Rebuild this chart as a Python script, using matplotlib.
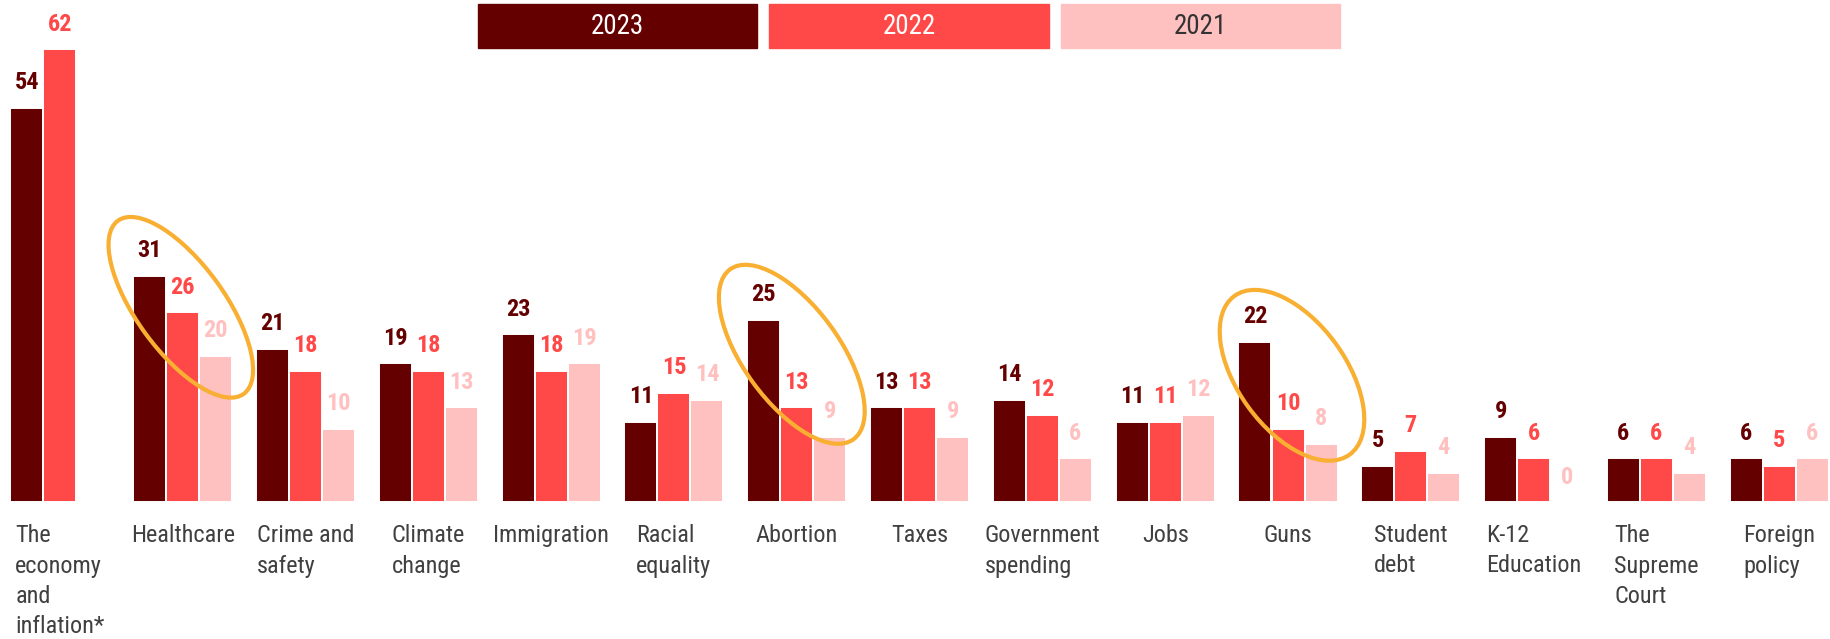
#!/usr/bin/env python3
"""Grouped bars: top issues 2021-2023 with highlighted groups."""

import matplotlib
matplotlib.use("Agg")
import matplotlib.pyplot as plt
import matplotlib.transforms as mtransforms
from matplotlib import font_manager
from matplotlib.patches import Ellipse, Rectangle
import numpy as np


CATEGORIES = [
    "The\neconomy\nand\ninflation*", "Healthcare", "Crime and\nsafety", "Climate\nchange",
    "Immigration", "Racial\nequality", "Abortion", "Taxes", "Government\nspending",
    "Jobs", "Guns", "Student\ndebt", "K-12\nEducation", "The\nSupreme\nCourt", "Foreign\npolicy",
]
YEARS = ["2023", "2022", "2021"]
V2023 = [54, 31, 21, 19, 23, 11, 25, 13, 14, 11, 22, 5, 9, 6, 6]
V2022 = [62, 26, 18, 18, 18, 15, 13, 13, 12, 11, 10, 7, 6, 6, 5]
V2021 = [np.nan, 20, 10, 13, 19, 14, 9, 9, 6, 12, 8, 4, 0, 4, 6]
HIGHLIGHTED = ["Healthcare", "Abortion", "Guns"]

COLORS = ["#640000", "#ff4848", "#ffc0c0"]
LEGEND_TEXT = ["white", "white", "#333333"]
LABEL_GRAY = "#404040"
RING = "#f8af32"

# the original uses a narrow sans; take the first condensed face that is installed
installed = {f.name for f in font_manager.fontManager.ttflist}
FONT = next((n for n in ("Liberation Sans Narrow", "Roboto Condensed", "PT Sans Narrow")
             if n in installed), "Liberation Sans")
plt.rcParams["font.family"] = [FONT, "DejaVu Sans"]

W, H = 1831, 639
fig = plt.figure(figsize=(W / 100, H / 100), dpi=100)
base_px = 502.3
ax = fig.add_axes([0, (H - base_px) / H, 1, base_px / H])
px_per_unit = 7.306
group_px = 122.8
ax.set_xlim(-60 / group_px, (W - 60) / group_px)
ax.set_ylim(0, base_px / px_per_unit)
ax.axis("off")

x = np.arange(len(CATEGORIES))
bw = 33 / group_px
series = [V2023, V2022, V2021]
for i, (vals, color) in enumerate(zip(series, COLORS)):
    vals = np.array(vals, dtype=float)
    xs = x + (i - 1) * bw
    ok = ~np.isnan(vals)
    ax.bar(xs[ok], vals[ok], width=bw, color=color, edgecolor="white", linewidth=1.4)
    for xi, v in zip(xs[ok], vals[ok]):
        ax.annotate(f"{int(v)}", (xi, v), xytext=(0, 13.5), textcoords="offset points",
                    ha="center", va="baseline", fontsize=17.5, fontweight="bold", color=color)

for xi, name in zip(x, CATEGORIES):
    ax.text(xi, -22 / px_per_unit, name, ha="center", va="top", multialignment="left",
            fontsize=17.5, color=LABEL_GRAY, linespacing=1.4, clip_on=False)

# orange rings: (center dx px, center dy px above baseline, width px, height px)
rings = {"Healthcare": (-2, 195, 214, 88), "Abortion": (-5, 148, 210, 96), "Guns": (4, 127, 196, 108)}
for name in HIGHLIGHTED:
    dx, dy, rw, rh = rings[name]
    gx = CATEGORIES.index(name)
    tr = fig.dpi_scale_trans + mtransforms.ScaledTranslation(gx, 0, ax.transData)
    ax.add_patch(Ellipse((dx / 100, dy / 100), rw / 100, rh / 100, angle=-54, transform=tr,
                         fill=False, edgecolor=RING, linewidth=3, clip_on=False))

# legend boxes across the top
for i, (year, color, tcolor) in enumerate(zip(YEARS, COLORS, LEGEND_TEXT)):
    left = 478 + i * 291.5
    fig.add_artist(Rectangle((left / W, 1 - 47.7 / H), 279 / W, 43.7 / H,
                             transform=fig.transFigure, color=color))
    fig.text((left + 139.5) / W, 1 - 26 / H, year, ha="center", va="center",
             fontsize=19.5, color=tcolor)

fig.savefig("out.png", dpi=100)
